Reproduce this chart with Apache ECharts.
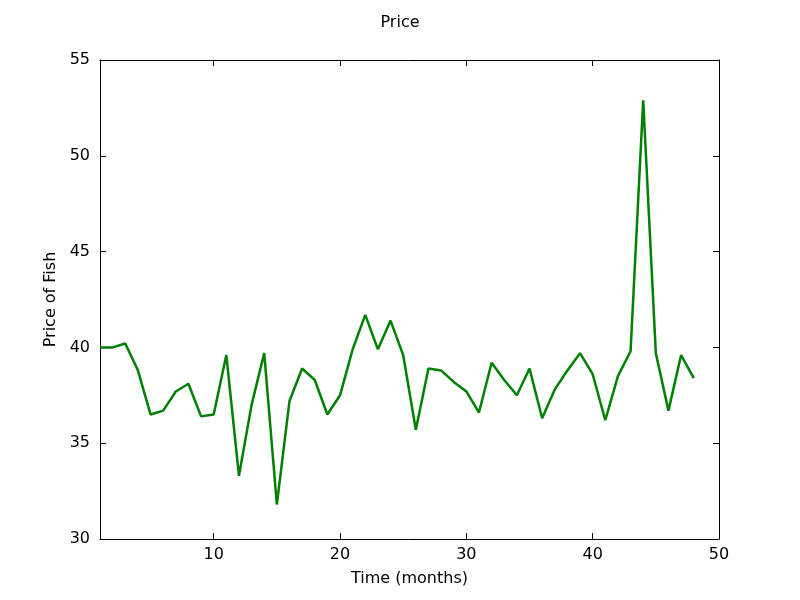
<!DOCTYPE html>
<html><head><meta charset="utf-8">
<script src="https://cdn.jsdelivr.net/npm/echarts@6/dist/echarts.min.js"></script>
<style>html,body{margin:0;padding:0;background:#fff}#c{width:800px;height:600px}</style>
</head><body><div id="c"></div>
<script>
const months = Array.from({length:48},(_,i)=>i+1);
const prices = [40.0,40.0,40.2,38.8,36.5,36.7,37.7,38.1,36.4,36.5,39.6,33.3,37.0,39.7,31.8,37.2,38.9,38.3,36.5,37.5,39.9,41.7,39.9,41.4,39.6,35.7,38.9,38.8,38.2,37.7,36.6,39.2,38.3,37.5,38.9,36.3,37.8,38.8,39.7,38.6,36.2,38.5,39.8,52.9,39.7,36.7,39.6,38.4];
const xTicks = [10,20,30,40,50];
const yTicks = [30,35,40,45,50,55];
const font = {fontFamily:'DejaVu Sans', fontSize:16, color:'#000'};
const axLine = {show:true, lineStyle:{color:'#000', width:1}};
function xa(pos, labels){return {type:'value', position:pos, min:1, max:50,
  axisLine:axLine, splitLine:{show:false},
  axisTick:{show:true, inside:true, length:6, customValues:xTicks, lineStyle:{color:'#000'}},
  axisLabel:{show:labels, customValues:xTicks, ...font, margin:8},
  name: labels?'Time (months)':'', nameLocation:'middle', nameGap:32, nameTextStyle:font};}
function ya(pos, labels){return {type:'value', position:pos, min:30, max:55, interval:5,
  axisLine:axLine, splitLine:{show:false},
  axisTick:{show:true, inside:true, length:6, lineStyle:{color:'#000'}},
  axisLabel:{show:labels, ...font, margin:10},
  name: labels?'Price of Fish':'', nameLocation:'middle', nameGap:36, nameTextStyle:font};}
const chart = echarts.init(document.getElementById('c'));
chart.setOption({
  animation:false,
  title:{text:'Price', left:'center', top:10, textStyle:{fontFamily:'DejaVu Sans', fontSize:16, fontWeight:'normal', color:'#000'}},
  grid:{left:100, right:81, top:60, bottom:61},
  xAxis:[xa('bottom',true), xa('top',false)],
  yAxis:[ya('left',true), ya('right',false)],
  series:[{type:'line', data:months.map((m,i)=>[m,prices[i]]), showSymbol:false,
    lineStyle:{color:'#008000', width:2.5}, itemStyle:{color:'#008000'}}]
});
</script></body></html>
